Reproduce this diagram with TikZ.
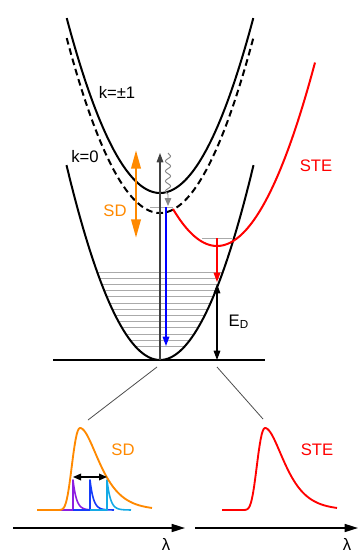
\documentclass[tikz,border=0pt]{standalone}
\usepackage{fontspec}
\setmainfont{Liberation Sans}
\usetikzlibrary{arrows.meta, decorations.pathmorphing}

\definecolor{sdorange}{RGB}{255,137,0}
\definecolor{stered}{RGB}{255,0,0}
\definecolor{lvlgray}{RGB}{170,170,170}
\definecolor{pkviolet}{RGB}{140,30,225}
\definecolor{pkblue}{RGB}{20,60,250}
\definecolor{pkcyan}{RGB}{20,170,230}

\begin{document}
\begin{tikzpicture}[
  x=0.75pt, y=-0.75pt,
  >=Triangle,
  band/.style={line width=1.5pt},
  level/.style={lvlgray, line width=0.6pt},
  lbl/.style={font=\fontsize{12.5}{14}\selectfont},
  thinarr/.style={line width=0.8pt, >={Triangle[length=7pt,width=5pt]}},
  zoomline/.style={black!70, line width=0.6pt},
  spec/.style={line width=1.4pt, line join=round},
  axis/.style={-{Triangle[length=10pt,width=6pt]}, line width=1.2pt},
  pics/spectrum/.style={code={
    \draw[spec] (-43,0) -- (-25,0)
      -- plot[domain=-25:72, samples=90]
      (\x, {-82*exp(1-\x/(\x<0?8.7:15.4)-exp(-\x/(\x<0?8.7:15.4)))});
  }},
]
\useasboundingbox (0,0) rectangle (358,552);

% --- occupied levels inside k=0 band ---
\foreach \i in {0,...,12}
  \draw[level] ({160-sqrt((88-6.2*\i)/0.0223)}, {272+6.2*\i})
    -- ({160+sqrt((88-6.2*\i)/0.0223)}, {272+6.2*\i});
\draw[level] (150,207) -- (173,207);
\draw[level] (202,238) -- (232,238);

% --- bands ---
\draw[band] plot[domain=66.7:253.3, samples=80] (\x, {193-0.0201*(\x-160)^2});
\draw[band, dashed, dash pattern=on 5pt off 3pt]
  plot[domain=66.7:253.3, samples=80] (\x, {213-0.0201*(\x-160)^2});
\draw[band] plot[domain=66.5:253.5, samples=80] (\x, {360-0.0223*(\x-160)^2});
\draw[band, stered] plot[domain=173:315, samples=80] (\x, {246-0.0191*(\x-217)^2});

\coordinate (vtx)    at (160,360);
\coordinate (exctop) at (160,153);
\coordinate (wvtop)  at (168,153);
\coordinate (wvbot)  at (168,206);
\coordinate (bltop)  at (166,207);
\coordinate (blbot)  at (166,346);
\coordinate (stemin) at (217,238);
\coordinate (stelow) at (217,282);
\coordinate (edtop)  at (217,284);
\coordinate (edbot)  at (217,360);
\coordinate (sdtop)  at (136,150);
\coordinate (sdbot)  at (136,238);

% --- baseline ---
\draw[line width=0.8pt] (53,360) -- (265,360);

% --- transitions ---
\draw[thinarr, ->, black!75] (vtx) -- (exctop);
\draw[->, lvlgray!80!black, line width=0.7pt, >={Triangle[length=6pt,width=5pt]},
  decorate, decoration={snake, amplitude=2pt, segment length=7.5pt, post length=6pt}]
  (wvtop) -- (wvbot);
\draw[thinarr, ->, blue] (bltop) -- (blbot);
\draw[thinarr, ->, stered] (stemin) -- (stelow);
\draw[thinarr, <->, black] (edtop) -- (edbot);
\draw[<->, sdorange, line width=2pt, >={Triangle[length=14pt,width=7pt]}] (sdtop) -- (sdbot);

% --- labels ---
\node[lbl] (kone)  at (117,92)  {k=±1};
\node[lbl] (kzero) at (85,157)  {k=0};
\node[lbl, text=sdorange] (sdlbl) at (115,211) {SD};
\node[lbl, text=stered] (stelbl) at (316,166) {STE};
\node[lbl, anchor=west] (edlbl) at (224,322) {E\textsubscript{D}};

% --- zoom lines ---
\draw[zoomline] (157,367) -- (88,420);
\draw[zoomline] (217,367) -- (263,419);

% --- spectra ---
\foreach \p/\c in {73/pkviolet, 90/pkblue, 107/pkcyan}
  \draw[spec, line width=1.2pt, \c] ({\p-17},510) -- (\p,510) -- (\p,480)
    -- plot[domain=0:24, samples=30] ({\p+\x}, {510-30*exp(-\x/3.5)});
\pic[sdorange] at (80,510) {spectrum};
\pic[stered] at (265,510) {spectrum};
\draw[<->, line width=0.9pt, >={Triangle[length=6pt,width=5pt]}] (73,477) -- (107,477);
\node[lbl, text=sdorange] (sdspec) at (123,450) {SD};
\node[lbl, text=stered] (stespec) at (317,450) {STE};

% --- wavelength axes ---
\draw[axis] (13,528) -- (185,528);
\draw[axis] (195,528) -- (358,528);
\node[lbl] (lamone) at (166,544) {λ};
\node[lbl] (lamtwo) at (347,544) {λ};
\end{tikzpicture}
\end{document}
